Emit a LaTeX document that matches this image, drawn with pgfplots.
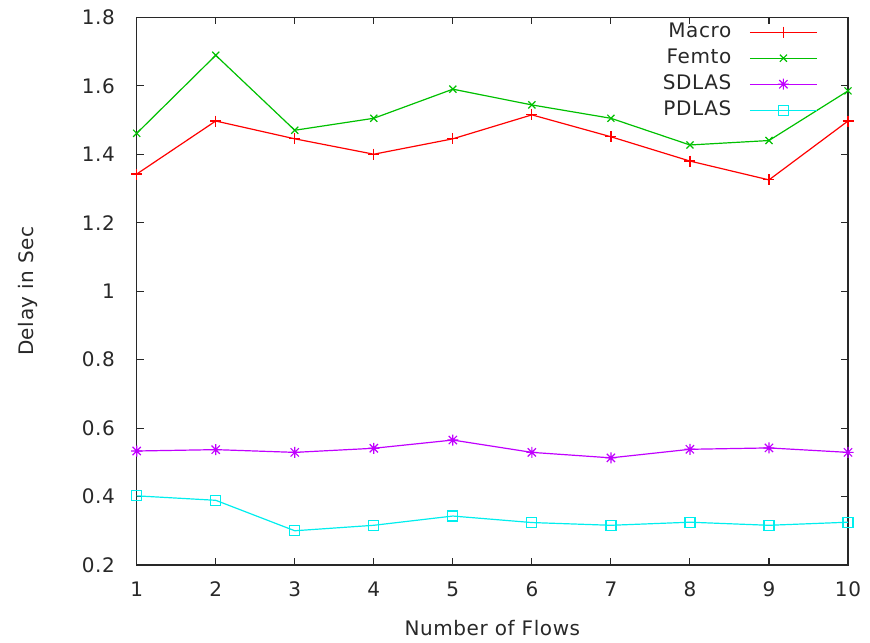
\documentclass[border=0pt]{standalone}
\usepackage{pgfplots}
\pgfplotsset{compat=1.18}
\usepackage{fontspec}
\setmainfont{DejaVu Sans}[LetterSpace=3]
\definecolor{gpred}{RGB}{255,0,0}
\definecolor{gpgreen}{RGB}{0,192,0}
\definecolor{gppurple}{RGB}{192,0,255}
\definecolor{gpcyan}{RGB}{0,238,238}
\definecolor{axgray}{RGB}{40,40,40}
\pgfdeclareplotmark{gpstar}{%
  \pgfpathmoveto{\pgfqpoint{-\pgfplotmarksize}{0pt}}%
  \pgfpathlineto{\pgfqpoint{\pgfplotmarksize}{0pt}}%
  \pgfpathmoveto{\pgfqpoint{0pt}{-\pgfplotmarksize}}%
  \pgfpathlineto{\pgfqpoint{0pt}{\pgfplotmarksize}}%
  \pgfpathmoveto{\pgfqpoint{-0.75\pgfplotmarksize}{-0.75\pgfplotmarksize}}%
  \pgfpathlineto{\pgfqpoint{0.75\pgfplotmarksize}{0.75\pgfplotmarksize}}%
  \pgfpathmoveto{\pgfqpoint{-0.75\pgfplotmarksize}{0.75\pgfplotmarksize}}%
  \pgfpathlineto{\pgfqpoint{0.75\pgfplotmarksize}{-0.75\pgfplotmarksize}}%
  \pgfusepathqstroke}
\begin{document}
\fontsize{20}{24}\selectfont
\begin{tikzpicture}
\begin{axis}[
  scale only axis, width=711.3pt, height=547.7pt,
  xmin=1, xmax=10, ymin=0.2, ymax=1.8,
  xtick={1,2,3,4,5,6,7,8,9,10},
  ytick={0.2,0.4,0.6,0.8,1,1.2,1.4,1.6,1.8},
  yticklabels={0.2,0.4,0.6,0.8,1,1.2,1.4,1.6,1.8},
  tick align=inside, major tick length=7pt,
  axis line style={axgray, line width=1.1pt},
  tick style={axgray, line width=1.1pt},
  font=\fontsize{20}{24}\selectfont,
  /pgf/number format/assume math mode=true,
  yticklabel style={inner sep=0pt, xshift=-21.7pt, text=axgray},
  xticklabel style={inner sep=0pt, yshift=-16.7pt, text=axgray},
  xlabel={Number of Flows}, ylabel={Delay in Sec},
  every axis x label/.style={at={(axis description cs:0.5,-0.115)}, anchor=center, text=axgray},
  every axis y label/.style={at={(axis description cs:-0.1528,0.5)}, anchor=center, rotate=90, text=axgray},
  clip=false,
  legend cell align=right,
  legend plot pos=right,
  legend style={draw=none, fill=none, at={(0.9574,0.9914)}, anchor=north east,
    inner sep=0pt, row sep=6pt, column sep=17pt,
    nodes={inner sep=1pt, text height=14pt, text depth=4pt, text=axgray}},
  legend image code/.code={\draw[mark repeat=2,mark phase=2,#1] plot coordinates {(0pt,0pt) (33.5pt,0pt) (67pt,0pt)};},
]
\addplot[gpred, line width=1.2pt, mark=+, mark size=5.5pt] coordinates {
 (1,1.342) (2,1.497) (3,1.445) (4,1.400) (5,1.445) (6,1.515) (7,1.451) (8,1.380) (9,1.325) (10,1.497)};
\addlegendentry{Macro}
\addplot[gpgreen, line width=1.2pt, mark=x, mark size=5pt] coordinates {
 (1,1.461) (2,1.689) (3,1.470) (4,1.505) (5,1.590) (6,1.544) (7,1.505) (8,1.427) (9,1.440) (10,1.585)};
\addlegendentry{Femto}
\addplot[gppurple, line width=1.2pt, mark=gpstar, mark size=5.5pt] coordinates {
 (1,0.533) (2,0.537) (3,0.529) (4,0.541) (5,0.565) (6,0.529) (7,0.513) (8,0.538) (9,0.542) (10,0.529)};
\addlegendentry{SDLAS}
\addplot[gpcyan, line width=1.2pt, mark=square, mark size=5pt] coordinates {
 (1,0.402) (2,0.389) (3,0.300) (4,0.316) (5,0.343) (6,0.324) (7,0.316) (8,0.325) (9,0.316) (10,0.325)};
\addlegendentry{PDLAS}
\end{axis}
\path (current axis.south west) ++(-136.7pt,-74pt) rectangle ++(870pt,639pt);
\end{tikzpicture}
\end{document}
